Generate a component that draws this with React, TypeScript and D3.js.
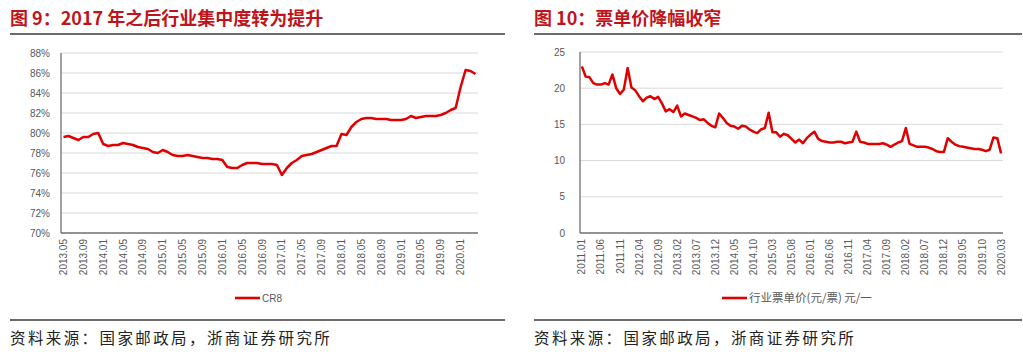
import React from 'react';
import * as d3 from 'd3';

function monthRange(y0: number, m0: number, n: number): string[] {
  const out: string[] = [];
  for (let k = 0; k < n; k++) {
    const t = (m0 - 1) + k;
    const y = y0 + Math.floor(t / 12);
    const m = (t % 12) + 1;
    out.push(`${y}.${m < 10 ? '0' + m : m}`);
  }
  return out;
}

// ---- Figure 9: CR8 ----
const cr8Months = monthRange(2013, 5, 84);
const cr8Values = [
  79.6, 79.7, 79.5, 79.3, 79.6, 79.6, 79.9, 80.0, 78.9, 78.7,
  78.8, 78.8, 79.0, 78.9, 78.8, 78.6, 78.5, 78.4, 78.1, 78.0,
  78.3, 78.1, 77.8, 77.7, 77.7, 77.8, 77.7, 77.6, 77.5, 77.5,
  77.4, 77.4, 77.3, 76.6, 76.5, 76.5, 76.8, 77.0, 77.0, 77.0,
  76.9, 76.9, 76.9, 76.8, 75.8, 76.5, 77.0, 77.3, 77.7, 77.8,
  77.9, 78.1, 78.3, 78.5, 78.7, 78.7, 79.9, 79.8, 80.6, 81.1,
  81.4, 81.5, 81.5, 81.4, 81.4, 81.4, 81.3, 81.3, 81.3, 81.4,
  81.7, 81.5, 81.6, 81.7, 81.7, 81.7, 81.8, 82.0, 82.3, 82.5,
  84.6, 86.3, 86.2, 85.9,
];
const cr8XTicks = [
  '2013.05', '2013.09', '2014.01', '2014.05', '2014.09', '2015.01', '2015.05',
  '2015.09', '2016.01', '2016.05', '2016.09', '2017.01', '2017.05', '2017.09',
  '2018.01', '2018.05', '2018.09', '2019.01', '2019.05', '2019.09', '2020.01',
];
const cr8YTicks = [70, 72, 74, 76, 78, 80, 82, 84, 86, 88];

// ---- Figure 10: ticket price ----
const priceMonths = monthRange(2011, 1, 111);
const priceValues = [
  23.0, 21.6, 21.5, 20.7, 20.5, 20.5, 20.7, 20.5, 21.9, 20.0,
  19.2, 19.8, 22.8, 20.1, 19.7, 18.9, 18.2, 18.7, 18.9, 18.5,
  18.8, 17.9, 16.8, 17.1, 16.7, 17.6, 16.1, 16.5, 16.3, 16.1,
  15.9, 15.6, 15.7, 15.2, 14.8, 14.6, 16.5, 15.9, 15.2, 14.8,
  14.7, 14.4, 14.8, 14.7, 14.3, 14.0, 13.8, 14.3, 14.5, 16.6,
  13.9, 13.9, 13.3, 13.7, 13.5, 13.0, 12.5, 12.9, 12.4, 13.1,
  13.6, 14.0, 13.0, 12.7, 12.6, 12.5, 12.5, 12.6, 12.6, 12.4,
  12.5, 12.6, 14.0, 12.6, 12.5, 12.3, 12.3, 12.3, 12.3, 12.4,
  12.2, 11.9, 12.2, 12.5, 12.7, 14.5, 12.3, 12.1, 11.9, 11.9,
  11.9, 11.8, 11.6, 11.3, 11.2, 11.2, 13.1, 12.6, 12.2, 12.0,
  11.9, 11.8, 11.7, 11.6, 11.6, 11.5, 11.3, 11.5, 13.2, 13.1,
  11.0,
];
const priceXTicks = [
  '2011.01', '2011.06', '2011.11', '2012.04', '2012.09', '2013.02', '2013.07',
  '2013.12', '2014.05', '2014.10', '2015.03', '2015.08', '2016.01', '2016.06',
  '2016.11', '2017.04', '2017.09', '2018.02', '2018.07', '2018.12', '2019.05',
  '2019.10', '2020.03',
];
const priceYTicks = [0, 5, 10, 15, 20, 25];

const RED = '#e00000';
const TITLE_RED = '#c0141c';
const NUM_FONT = '"Liberation Sans", Arial, sans-serif';
const CJK_FONT = '"Noto Sans CJK SC", "Noto Sans", sans-serif';

interface PanelProps {
  title: string;
  months: string[];
  values: number[];
  xTicks: string[];
  yTicks: number[];
  yDomain: [number, number];
  yFmt: (v: number) => string;
  panelX0: number;
  panelX1: number;
  plotX0: number;
  plotX1: number;
  plotY0: number;
  plotY1: number;
  yLabelX: number;
  legendX: number;
  legendLabel: string;
  legendFont: string;
  legendSize: number;
}

function Panel(p: PanelProps) {
  const x = d3.scaleBand<string>().domain(p.months).range([p.plotX0, p.plotX1]).padding(0);
  const y = d3.scaleLinear().domain(p.yDomain).range([p.plotY1, p.plotY0]);
  const cx = (m: string) => (x(m) as number) + x.bandwidth() / 2;
  const line = d3
    .line<number>()
    .x((_, i) => cx(p.months[i]))
    .y((v) => y(v));
  const legendY = 298;
  return (
    <g>
      <text x={p.panelX0} y={25} fill={TITLE_RED} fontFamily={CJK_FONT} fontWeight={700} fontSize={18}>
        {p.title}
      </text>
      <line x1={p.panelX0} x2={p.panelX1} y1={34} y2={34} stroke="#3a3a3a" strokeWidth={1.5} />
      {p.yTicks.map((t) => (
        <g key={t}>
          {t !== p.yDomain[0] && (
            <line x1={p.plotX0} x2={p.plotX1} y1={y(t)} y2={y(t)} stroke="#d9d9d9" strokeWidth={1} />
          )}
          <text
            x={p.yLabelX}
            y={y(t)}
            dy="0.35em"
            textAnchor="end"
            fontFamily={NUM_FONT}
            fontSize={10}
            fill="#595959"
          >
            {p.yFmt(t)}
          </text>
        </g>
      ))}
      <line x1={p.plotX0} x2={p.plotX0} y1={p.plotY0} y2={p.plotY1} stroke="#6f6f6f" strokeWidth={1.3} />
      <line x1={p.plotX0} x2={p.plotX1} y1={p.plotY1} y2={p.plotY1} stroke="#6f6f6f" strokeWidth={1.3} />
      {p.xTicks.map((t) => (
        <text
          key={t}
          transform={`translate(${cx(t)},${p.plotY1 + 6}) rotate(-90)`}
          dy="0.35em"
          textAnchor="end"
          fontFamily={NUM_FONT}
          fontSize={10}
          fill="#595959"
        >
          {t}
        </text>
      ))}
      <path d={line(p.values) || ''} fill="none" stroke={RED} strokeWidth={2.5} strokeLinejoin="round" />
      <line x1={p.legendX} x2={p.legendX + 25} y1={legendY} y2={legendY} stroke={RED} strokeWidth={2.6} />
      <text
        x={p.legendX + 27}
        y={legendY}
        dy="0.35em"
        fontFamily={p.legendFont}
        fontSize={p.legendSize}
        fill="#595959"
      >
        {p.legendLabel}
      </text>
      <line x1={p.panelX0} x2={p.panelX1} y1={320} y2={320} stroke="#3a3a3a" strokeWidth={1.5} />
      <text
        x={p.panelX0}
        y={344}
        fontFamily={CJK_FONT}
        fontSize={15.5}
        letterSpacing={2.4}
        fill="#222"
      >
        资料来源：国家邮政局，浙商证券研究所
      </text>
    </g>
  );
}

export default function App() {
  return (
    <svg
      width={1023}
      height={356}
      viewBox="0 0 1023 356"
      style={{ position: 'absolute', left: 0, top: 0, background: '#fff' }}
    >
      <rect width={1023} height={356} fill="#fff" />
      <Panel
        title="图 9：2017 年之后行业集中度转为提升"
        months={cr8Months}
        values={cr8Values}
        xTicks={cr8XTicks}
        yTicks={cr8YTicks}
        yDomain={[70, 88]}
        yFmt={(v) => `${v}%`}
        panelX0={10}
        panelX1={505}
        plotX0={61}
        plotX1={478}
        plotY0={53}
        plotY1={233}
        yLabelX={50}
        legendX={235}
        legendLabel="CR8"
        legendFont={NUM_FONT}
        legendSize={10}
      />
      <Panel
        title="图 10：票单价降幅收窄"
        months={priceMonths}
        values={priceValues}
        xTicks={priceXTicks}
        yTicks={priceYTicks}
        yDomain={[0, 25]}
        yFmt={(v) => `${v}`}
        panelX0={534}
        panelX1={1022}
        plotX0={580}
        plotX1={1003}
        plotY0={52}
        plotY1={233}
        yLabelX={565}
        legendX={722}
        legendLabel="行业票单价(元/票) 元/一"
        legendFont={CJK_FONT}
        legendSize={11.5}
      />
    </svg>
  );
}
